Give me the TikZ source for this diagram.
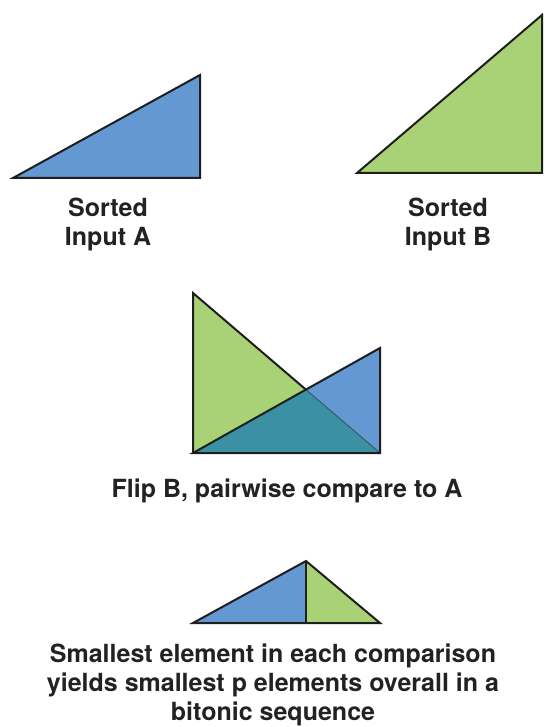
\documentclass[tikz,border=0pt]{standalone}
\usepackage{fontspec}
\setmainfont{TeX Gyre Heros}
\definecolor{blueA}{HTML}{6398D3}
\definecolor{greenB}{HTML}{A8D275}
\definecolor{tealC}{HTML}{3B91A3}
\definecolor{edge}{HTML}{1E1E1E}
\definecolor{txt}{HTML}{222222}
\begin{document}
\begin{tikzpicture}[x=1pt,y=-1pt,
  tri/.style={draw=edge,line width=2pt,line join=miter},
  faint/.style={draw=edge!45!tealC,line width=1pt},
  lab/.style={font=\bfseries\fontsize{25}{29}\selectfont,text=txt,align=center,inner sep=0pt,anchor=base}]
\useasboundingbox[fill=white] (0,0) rectangle (544,727);

% Sorted input A
\coordinate (a1) at (13,178);
\coordinate (a2) at (200,178);
\coordinate (a3) at (200,75);
\filldraw[tri,fill=blueA] (a1)--(a2)--(a3)--cycle;
\node[lab] (labA) at (108,245) {Sorted\\Input A};

% Sorted input B
\coordinate (b1) at (357,173);
\coordinate (b2) at (542,173);
\coordinate (b3) at (542,15);
\filldraw[tri,fill=greenB] (b1)--(b2)--(b3)--cycle;
\node[lab] (labB) at (448,245) {Sorted\\Input B};

% Flip B, compare
\coordinate (g1) at (193,293);
\coordinate (g2) at (193,453);
\coordinate (g3) at (380,453);
\coordinate (h3) at (380,348);
\coordinate (x) at (intersection of g1--g3 and g2--h3);
\fill[greenB] (g1)--(g2)--(g3)--cycle;
\fill[blueA] (g2)--(g3)--(h3)--cycle;
\fill[tealC] (g2)--(x)--(g3)--cycle;
\draw[faint] (x)--(g3);
\draw[tri] (x)--(g1)--(g2);
\draw[tri] (g2)--(h3)--(g3)--cycle;
\node[lab] (labC) at (287,497) {Flip B, pairwise compare to A};

% Result
\coordinate (r1) at (193,623);
\coordinate (r2) at (306,561);
\coordinate (r3) at (380,623);
\coordinate (rm) at (306,623);
\fill[blueA] (r1)--(r2)--(rm)--cycle;
\fill[greenB] (r2)--(r3)--(rm)--cycle;
\draw[tri] (r1)--(r2)--(r3)--cycle;
\draw[tri] (r2)--(rm);
\node[lab] (labD) at (273,720) {Smallest element in each comparison\\yields smallest p elements overall in a\\bitonic sequence};
\end{tikzpicture}
\end{document}
